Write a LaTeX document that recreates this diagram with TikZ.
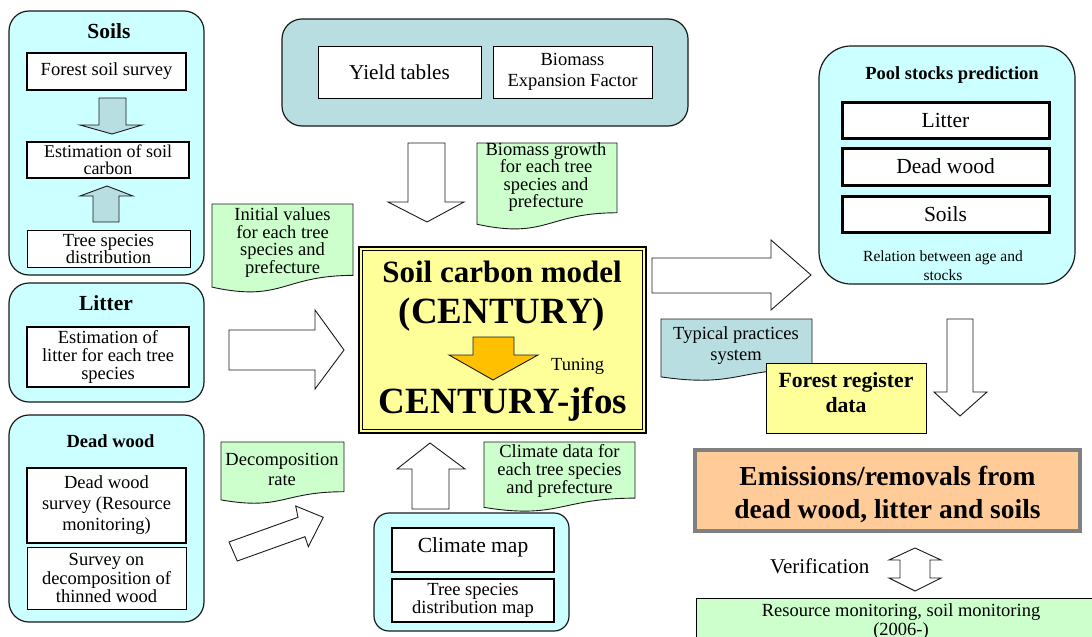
\documentclass[tikz,border=0pt]{standalone}
\usepackage{fontspec}
\setmainfont{Liberation Serif}
\definecolor{cyanL}{HTML}{CCFFFF}
\definecolor{tealL}{HTML}{B8DEE2}
\definecolor{greenL}{HTML}{CCFFCC}
\definecolor{yellowL}{HTML}{FFFF99}
\definecolor{orangeA}{HTML}{FFC000}
\definecolor{peachL}{HTML}{FFCC99}
\definecolor{edgeC}{HTML}{1A1A1A}
\newcommand\docnote[5]{%
  \path[#1] (#2,#3) -- (#4,#3) -- (#4,{#3+0.802*#5})
    .. controls ({(#2+#4)/2},{#3+0.802*#5}) and ({(#2+#4)/2},{#3+1.1075*#5}) ..
    (#2,{#3+0.934*#5}) -- cycle;}
\begin{document}
\begin{tikzpicture}[x=1pt,y=-1pt,
  panel/.style={draw=edgeC,line width=1.2pt,rounded corners=20pt,fill=cyanL,inner sep=0pt},
  thickbox/.style={draw=black,line width=2pt,fill=white,inner sep=0pt,align=center},
  thinbox/.style={draw=black,line width=0.9pt,fill=white,inner sep=0pt,align=center},
  pbox/.style={draw=black,line width=3pt,fill=white,inner sep=0pt,minimum width=207pt},
  barrow/.style={draw=edgeC,line width=0.9pt,fill=white,line join=miter},
  tarrow/.style={draw=edgeC,line width=0.9pt,fill=tealL},
  gnote/.style={draw=edgeC,line width=0.9pt,fill=greenL},
  tnote/.style={draw=edgeC,line width=0.9pt,fill=tealL},
  ntext/.style={align=center,inner sep=0pt,font=\fontsize{18.5}{17.6}\selectfont},
  fA/.style={font=\fontsize{18.5}{17.6}\selectfont},
  ttl/.style={inner sep=0pt,anchor=base,font=\bfseries\fontsize{21.5}{24}\selectfont}
]
\clip (0,0) rectangle (1092,637);
\fill[white] (0,0) rectangle (1092,637);

% ---------- Soils panel ----------
\node[panel,minimum width=195pt,minimum height=264pt] (soils) at (106.5,143) {};
\node[ttl] (soilsT) at (109,38) {Soils};
\node[thickbox,fA,minimum width=159pt,minimum height=37pt] (fss) at (106.5,71.5) {Forest soil survey};
\node[thickbox,font=\fontsize{18}{17}\selectfont,minimum width=162pt,minimum height=36pt] (esc) at (108,160) {Estimation of soil\\carbon};
\node[thinbox,font=\fontsize{18.5}{17}\selectfont,minimum width=163pt,minimum height=37pt] (tsd) at (108.5,248.5) {Tree species\\distribution};
\draw[tarrow] (99,98) -- (126,98) -- (126,125) -- (142,125) -- (112,134) -- (80,125) -- (99,125) -- cycle;
\draw[tarrow] (93,222) -- (119,222) -- (119,196) -- (133,196) -- (107,186) -- (80,196) -- (93,196) -- cycle;

% ---------- Litter panel ----------
\node[panel,minimum width=195pt,minimum height=119pt] (litter) at (106.5,342.5) {};
\node[ttl] (litterT) at (106,310) {Litter};
\node[thickbox,font=\fontsize{18.5}{18}\selectfont,minimum width=162pt,minimum height=60pt] (elt) at (108,357) {Estimation of\\litter for each tree\\species};

% ---------- Dead wood panel ----------
\node[panel,minimum width=195pt,minimum height=207pt] (dw) at (106.5,518.5) {};
\node[ttl,font=\bfseries\fontsize{18.5}{20}\selectfont] (dwT) at (110.5,447) {Dead wood};
\node[thickbox,font=\fontsize{18.5}{21}\selectfont,minimum width=159pt,minimum height=75pt] (dws) at (106.5,505.5) {Dead wood\\survey (Resource\\monitoring)};
\node[thinbox,font=\fontsize{18.5}{18.5}\selectfont,minimum width=159pt,minimum height=62pt] (sdt) at (106.5,578) {Survey on\\decomposition of\\thinned wood};

% ---------- Top panel ----------
\node[panel,fill=tealL,minimum width=406pt,minimum height=107pt] (top) at (485,72.5) {};
\node[thinbox,font=\fontsize{21.2}{22}\selectfont,minimum width=163pt,minimum height=52pt] (yt) at (399.5,72) {Yield tables};
\node[thinbox,font=\fontsize{18.5}{21.5}\selectfont,minimum width=159pt,minimum height=52pt] (bef) at (572.5,72) {Biomass\\Expansion Factor};
\draw[barrow] (408,143) -- (445,143) -- (445,202) -- (464,202) -- (427,222) -- (388,202) -- (408,202) -- cycle;

% ---------- notes ----------
\docnote{gnote}{212}{204}{353}{89}
\node[ntext] (initv) at (282.5,242.5) {Initial values\\for each tree\\species and\\prefecture};
\docnote{gnote}{477}{143}{617}{87}
\node[ntext] (bgrow) at (546,177) {Biomass growth\\for each tree\\species and\\prefecture};
\docnote{gnote}{221}{442}{344}{62}
\node[ntext,font=\fontsize{18.5}{20}\selectfont] (decr) at (282,469) {Decomposition\\rate};
\docnote{gnote}{484}{442}{635}{70}
\node[ntext] (climd) at (559.5,471) {Climate data for\\each tree species\\and prefecture};

% ---------- left arrows ----------
\draw[barrow] (229,330) -- (315,330) -- (315,310) -- (344,350) -- (315,389) -- (315,370) -- (229,370) -- cycle;
\draw[barrow] (229,542) -- (298,517.3) -- (295.7,506) -- (323.3,517.3) -- (308.3,546.7) -- (305,536.7) -- (237.3,561) -- cycle;

% ---------- central model ----------
\node[draw=black,line width=1.6pt,fill=yellowL,minimum width=287pt,minimum height=186pt,inner sep=0pt] (model) at (502.5,340) {};
\draw[line width=0.8pt] ([shift={(4,4)}]model.north west) rectangle ([shift={(-4,-4)}]model.south east);
\node[anchor=base,inner sep=0pt,font=\bfseries\fontsize{31}{34}\selectfont] (m1) at (502,282) {Soil carbon model};
\node[anchor=base,inner sep=0pt,font=\bfseries\fontsize{37}{40}\selectfont] (m2) at (502,323) {(CENTURY)};
\draw[draw=edgeC,line width=0.9pt,fill=orangeA] (473,337) -- (514,337) -- (514,355) -- (538,355) -- (493,380) -- (449,355) -- (473,355) -- cycle;
\node[anchor=base west,inner sep=0pt,fA] (tun) at (551,370) {Tuning};
\node[anchor=base,inner sep=0pt,font=\bfseries\fontsize{37}{40}\selectfont] (m3) at (503,413) {CENTURY-jfos};

% ---------- bottom center ----------
\draw[barrow] (412,509) -- (449,509) -- (449,469) -- (465,469) -- (430,443) -- (397,469) -- (412,469) -- cycle;
\node[panel,rounded corners=15pt,minimum width=195pt,minimum height=118pt] (clim) at (471.5,572) {};
\node[thickbox,font=\fontsize{21.5}{22}\selectfont,minimum width=162pt,minimum height=44pt,text height=15pt,text depth=10pt] (cmap) at (473,550) {Climate map};
\node[thickbox,font=\fontsize{18.5}{16}\selectfont,minimum width=162pt,minimum height=43pt] (tsdm) at (473,600.5) {Tree species\\distribution map};

% ---------- right side ----------
\draw[barrow] (652,258) -- (771,258) -- (771,240) -- (811,275) -- (771,310) -- (771,293) -- (652,293) -- cycle;
\node[panel,rounded corners=32pt,minimum width=256pt,minimum height=238pt] (pool) at (947,165) {};
\node[ttl,font=\bfseries\fontsize{18.5}{20}\selectfont] (poolT) at (952,79) {Pool stocks prediction};
\node[pbox,font=\fontsize{21.5}{22}\selectfont,minimum height=36pt] (pl) at (945.5,120) {Litter};
\node[pbox,font=\fontsize{21.5}{22}\selectfont,minimum height=37pt] (pd) at (945.5,166.5) {Dead wood};
\node[pbox,font=\fontsize{21.5}{22}\selectfont,minimum height=36pt] (ps) at (945.5,214) {Soils};
\node[align=center,inner sep=0pt,font=\fontsize{15.5}{19}\selectfont] (rel) at (943,266) {Relation between age and\\stocks};

\docnote{tnote}{661}{319}{812}{62}
\node[ntext,font=\fontsize{18.5}{21}\selectfont] (typ) at (736,346) {Typical practices\\system};
\node[draw=black,line width=0.9pt,fill=yellowL,minimum width=160pt,minimum height=70pt,inner sep=0pt] (freg) at (846,398) {};
\node[align=center,inner sep=0pt,font=\bfseries\fontsize{21.7}{25}\selectfont] (fregT) at (846,392.5) {Forest register\\data};
\draw[barrow] (947,319) -- (973,319) -- (973,392) -- (987,392) -- (960,416) -- (934,392) -- (947,392) -- cycle;

\node[draw=black!50,line width=3.5pt,fill=peachL,minimum width=385pt,minimum height=81pt,inner sep=0pt] (emis) at (887.5,490.5) {};
\node[align=center,inner sep=0pt,font=\bfseries\fontsize{27.5}{33}\selectfont] (emisT) at (887.5,494) {Emissions/removals from\\dead wood, litter and soils};

\node[anchor=base west,inner sep=0pt,font=\fontsize{21}{22}\selectfont] (verif) at (770,573) {Verification};
\draw[barrow] (915,548) -- (941,560) -- (930,560) -- (930,578) -- (941,578) -- (915,591) -- (889,578) -- (900,578) -- (900,560) -- (889,560) -- cycle;

\node[draw=black,line width=0.9pt,fill=greenL,minimum width=410pt,minimum height=60pt,anchor=north west,inner sep=0pt] (resm) at (696,598) {};
\node[align=center,inner sep=0pt,font=\fontsize{18.5}{19.5}\selectfont] (resmT) at (901,621.5) {Resource monitoring, soil monitoring\\(2006-)};
\end{tikzpicture}
\end{document}
